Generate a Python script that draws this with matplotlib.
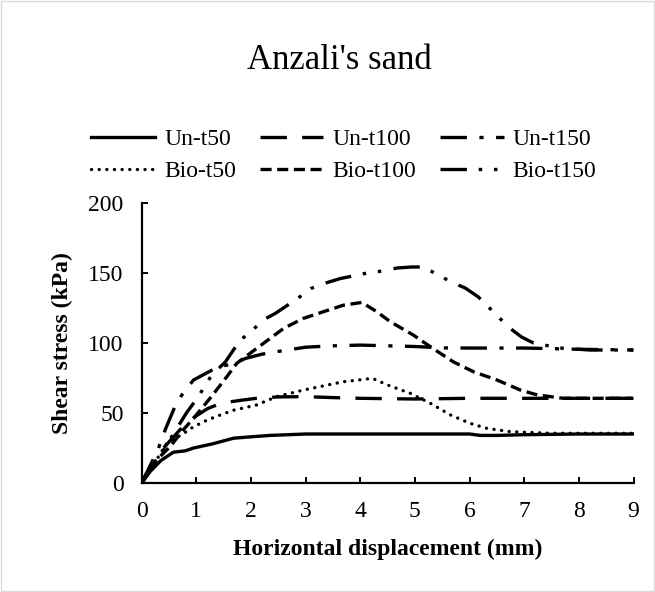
import matplotlib
matplotlib.use("Agg")
import matplotlib.pyplot as plt
from matplotlib.patches import Rectangle

plt.rcParams['font.family'] = ['Liberation Serif', 'DejaVu Serif']
plt.rcParams['lines.scale_dashes'] = False

# horizontal displacement (mm) / shear stress (kPa)
un50_x = [0, 0.15, 0.35, 0.58, 0.8, 0.95, 1.3, 1.68, 2.0, 2.35, 3.0, 4.0, 5.0, 6.0, 6.2, 6.5, 7.0, 8.0, 9.0]
un50_y = [0, 8, 16, 22, 23, 25, 28, 32, 33, 34, 35, 35, 35, 35, 34, 34, 34.5, 35, 35]

un100_x = [0, 0.15, 0.4, 0.7, 1.0, 1.2, 1.45, 1.8, 2.1, 2.5, 3.0, 3.5, 4.0, 5.0, 6.0, 7.0, 8.0, 9.0]
un100_y = [0, 10, 25, 38, 48, 53, 57, 59, 60.5, 61.5, 61.7, 61, 60.5, 60, 60.5, 60.5, 60.5, 60.5]

un150_x = [0, 0.15, 0.3, 0.43, 0.62, 0.77, 0.95, 1.4, 1.67, 1.9, 2.2, 2.5, 3.0, 3.5, 4.0, 4.5, 5.0, 5.5, 6.0, 7.0, 7.5, 8.0, 9.0]
un150_y = [0, 12, 24, 38, 55.7, 65, 73.6, 83, 85, 89, 92, 94, 97, 98, 98.5, 98, 97.5, 96.5, 96.4, 96.4, 96, 95.5, 95]

bio50_x = [0, 0.2, 0.46, 0.77, 0.95, 1.2, 1.44, 1.68, 2.1, 2.47, 2.96, 3.7, 4.06, 4.22, 4.5, 4.92, 5.28, 5.65, 6.01, 6.32, 6.74, 7.5, 8.0, 9.0]
bio50_y = [0, 12, 28.4, 35.5, 40.2, 45, 48.6, 52, 55.7, 61.7, 66.4, 72.4, 74, 74.8, 70, 64, 57, 48.6, 42.6, 39, 36.7, 35.5, 35.5, 35.5]

bio100_x = [0, 0.15, 0.52, 0.76, 1.0, 1.25, 1.49, 1.74, 2.23, 2.6, 2.96, 3.33, 3.69, 4.03, 4.3, 4.55, 4.97, 5.28, 5.7, 6.07, 6.5, 6.93, 7.24, 7.72, 8.5, 9.0]
bio100_y = [0, 11.7, 26, 37.9, 48.6, 60.5, 72.4, 85.5, 99.8, 110.5, 117.6, 122.4, 127, 129, 122.4, 115.2, 105.7, 97.4, 86.6, 79.5, 73.6, 66.4, 62.9, 60.5, 60.5, 60.5]

bio150_x = [0, 0.25, 0.5, 0.83, 1.02, 1.28, 1.53, 1.8, 2.02, 2.2, 2.44, 2.86, 3.1, 3.38, 3.63, 4.13, 4.4, 4.68, 4.95, 5.15, 5.43, 5.66, 5.92, 6.16, 6.53, 6.71, 6.95, 7.17, 7.66, 8.2, 9.0]
bio150_y = [0, 14, 30, 50.7, 60.7, 77, 86.4, 102, 108.6, 116, 121, 132, 139, 143, 146, 150, 151.4, 153.6, 154.3, 154.3, 148.6, 143.6, 139.3, 132.9, 118.6, 111.4, 104.3, 100, 96.4, 95, 95]

fig = plt.figure(figsize=(6.55, 5.92), dpi=100)
ax = fig.add_axes([0.2163, 0.1841, 0.7509, 0.4730])

lw = 2.4
lines = {}
lines['Un-t50'] = ax.plot(un50_x, un50_y, color='black', lw=lw, ls='-')[0]
lines['Un-t100'] = ax.plot(un100_x, un100_y, color='black', lw=lw, ls=(0, (19, 11)))[0]
lines['Un-t150'] = ax.plot(un150_x, un150_y, color='black', lw=lw, ls=(0, (19, 9, 3, 9)))[0]
lines['Bio-t50'] = ax.plot(bio50_x, bio50_y, color='black', lw=lw, ls=(0, (0.1, 5.4)),
                           dash_capstyle='round')[0]
lines['Bio-t100'] = ax.plot(bio100_x, bio100_y, color='black', lw=lw, ls=(0, (8, 4)))[0]
lines['Bio-t150'] = ax.plot(bio150_x, bio150_y, color='black', lw=lw,
                            ls=(0, (19, 8.5, 2.5, 8.5, 2.5, 9)))[0]

ax.set_xlim(0, 9)
ax.set_ylim(0, 200)
ax.set_xticks(range(0, 10))
ax.set_yticks(range(0, 201, 50))
for s in ['top', 'right']:
    ax.spines[s].set_visible(False)
for s in ['left', 'bottom']:
    ax.spines[s].set_linewidth(1.6)
ax.tick_params(direction='in', length=4, width=1.4, labelsize=17)
ax.tick_params(axis='x', pad=13)
ax.tick_params(axis='y', pad=13)

ax.set_xlabel('Horizontal displacement (mm)', fontsize=17, fontweight='bold', va='center')
ax.xaxis.set_label_coords(0.5, -0.236)
ax.set_ylabel('Shear stress (kPa)', fontsize=17, fontweight='bold', va='center')
ax.yaxis.set_label_coords(-0.162, 0.5)

fig.text(0.518, 0.898, "Anzali's sand", fontsize=25, ha='center', va='center')

# legend: Un row on top, Bio row below (ncol fills by column)
order = ['Un-t50', 'Bio-t50', 'Un-t100', 'Bio-t100', 'Un-t150', 'Bio-t150']
fig.legend([lines[k] for k in order], order, loc='center', bbox_to_anchor=(0.525, 0.738),
           ncol=3, frameon=False, fontsize=17, handlelength=2.7, handletextpad=0.38,
           columnspacing=1.0, labelspacing=0.45, borderpad=0)

fig.patches.append(Rectangle((0.002, 0.002), 0.996, 0.996, transform=fig.transFigure,
                             fill=False, edgecolor='#d9d9d9', lw=1.0))

fig.savefig('out.png', dpi=100)
